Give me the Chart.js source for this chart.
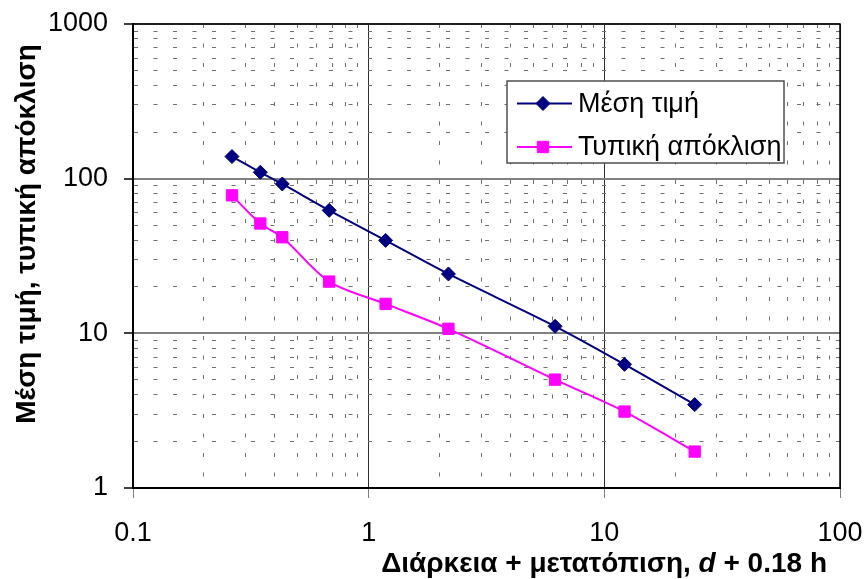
<!DOCTYPE html>
<html><head><meta charset="utf-8">
<script src="https://cdn.jsdelivr.net/npm/chart.js@4.4.1/dist/chart.umd.min.js"></script>
<style>html,body{margin:0;padding:0;background:#fff}canvas{display:block}</style>
</head><body>
<canvas id="c" width="867" height="579"></canvas>
<script>
// ---- data ----
const durations = [0.263, 0.347, 0.43, 0.68, 1.18, 2.18, 6.18, 12.18, 24.18];
const meanValues = [139, 110, 92.4, 62.4, 39.9, 24.2, 11.1, 6.3, 3.46];
const stdValues = [78, 51.3, 41.8, 21.6, 15.5, 10.7, 5.02, 3.12, 1.72];
const seriesNames = ['Μέση τιμή', 'Τυπική απόκλιση'];
const xTickLabels = [0.1, 1, 10, 100];
const yTickLabels = [1, 10, 100, 1000];
const xTitleParts = ['Διάρκεια + μετατόπιση, ', 'd', ' + 0.18 h'];
const yTitle = 'Μέση τιμή, τυπική απόκλιση';

const FONT = "'Liberation Sans', Arial, sans-serif";
Chart.defaults.font.family = FONT;

function decadeGrid(labels) {
  const out = [];
  for (let i = 0; i < labels.length - 1; i++) {
    for (let m = 1; m <= 9; m++) out.push(Number((labels[i] * m).toPrecision(6)));
  }
  out.push(labels[labels.length - 1]);
  return out;
}
function isMajor(v) {
  const l = Math.log10(v);
  return Math.abs(l - Math.round(l)) < 1e-6;
}
const xGrid = decadeGrid(xTickLabels);
const yGrid = decadeGrid(yTickLabels);

const CA = {left: 133, right: 840, top: 24, bottom: 488};

function gridDash(ctx) {
  return (ctx.tick && !isMajor(ctx.tick.value)) ? [4, 15.5] : [];
}

const framePlugin = {
  id: 'frame',
  beforeDatasetsDraw(chart) {
    const {ctx, chartArea: a} = chart;
    ctx.save();
    ctx.strokeStyle = '#000';
    ctx.lineWidth = 1.5;
    ctx.strokeRect(a.left, a.top, a.right - a.left, a.bottom - a.top);
    ctx.restore();
  }
};

function drawMarker(ctx, style, r, x, y, color) {
  ctx.save();
  ctx.fillStyle = color;
  ctx.strokeStyle = color;
  ctx.lineWidth = 1;
  ctx.beginPath();
  if (style === 'rectRot') {
    ctx.moveTo(x - r, y); ctx.lineTo(x, y - r); ctx.lineTo(x + r, y); ctx.lineTo(x, y + r);
  } else {
    const s = Math.SQRT1_2 * r;
    ctx.rect(x - s, y - s, 2 * s, 2 * s);
  }
  ctx.closePath();
  ctx.fill(); ctx.stroke();
  ctx.restore();
}

const legendPlugin = {
  id: 'boxLegend',
  afterDraw(chart) {
    const ctx = chart.ctx;
    const bx = 507, by = 81, bw = 277, bh = 82;
    ctx.save();
    ctx.fillStyle = '#fff';
    ctx.fillRect(bx, by, bw, bh);
    ctx.strokeStyle = '#505050';
    ctx.lineWidth = 1.5;
    ctx.strokeRect(bx, by, bw, bh);
    chart.data.datasets.forEach((ds, i) => {
      const y = 103.5 + i * 43.5;
      ctx.strokeStyle = ds.borderColor;
      ctx.lineWidth = 2;
      ctx.beginPath(); ctx.moveTo(517, y); ctx.lineTo(572, y); ctx.stroke();
      drawMarker(ctx, ds.pointStyle, ds.pointRadius, 543, y, ds.borderColor);
      ctx.fillStyle = '#000';
      ctx.font = '27px ' + FONT;
      ctx.textAlign = 'left';
      ctx.textBaseline = 'middle';
      ctx.fillText(ds.label, 578, y + 1);
    });
    ctx.restore();
  }
};

const titlePlugin = {
  id: 'axisTitles',
  afterDraw(chart) {
    const ctx = chart.ctx;
    ctx.save();
    ctx.fillStyle = '#000';
    ctx.textBaseline = 'alphabetic';
    const fonts = ['bold 28px ' + FONT, 'italic bold 28px ' + FONT, 'bold 28px ' + FONT];
    let total = 0;
    const widths = xTitleParts.map((t, i) => { ctx.font = fonts[i]; const w = ctx.measureText(t).width; total += w; return w; });
    let x = 827 - total;
    xTitleParts.forEach((t, i) => { ctx.font = fonts[i]; ctx.textAlign = 'left'; ctx.fillText(t, x, 572); x += widths[i]; });
    ctx.translate(35, 234);
    ctx.rotate(-Math.PI / 2);
    ctx.font = 'bold 28px ' + FONT;
    ctx.textAlign = 'center';
    ctx.fillText(yTitle, 0, 0);
    ctx.restore();
  }
};

new Chart(document.getElementById('c'), {
  type: 'line',
  data: {
    datasets: [
      {
        label: seriesNames[0],
        data: durations.map((d, i) => ({x: d, y: meanValues[i]})),
        borderColor: '#000080', backgroundColor: '#000080',
        borderWidth: 2, pointStyle: 'rectRot', pointRadius: 7, pointBorderWidth: 1,
        tension: 0.3, fill: false
      },
      {
        label: seriesNames[1],
        data: durations.map((d, i) => ({x: d, y: stdValues[i]})),
        borderColor: '#FF00FF', backgroundColor: '#FF00FF',
        borderWidth: 2, pointStyle: 'rect', pointRadius: 8, pointBorderWidth: 1,
        tension: 0.3, fill: false
      }
    ]
  },
  options: {
    responsive: false,
    animation: false,
    devicePixelRatio: 1,
    layout: {padding: {left: 0, right: 867 - CA.right, top: CA.top, bottom: 0}},
    plugins: {legend: {display: false}, tooltip: {enabled: false}},
    events: [],
    scales: {
      x: {
        type: 'logarithmic', min: xTickLabels[0], max: xTickLabels[xTickLabels.length - 1],
        afterBuildTicks: s => { s.ticks = xGrid.map(v => ({value: v, major: isMajor(v)})); },
        afterFit: s => { s.height = 579 - CA.bottom; s.paddingLeft = 0; s.paddingRight = 0; },
        ticks: {
          autoSkip: false, maxRotation: 0, minRotation: 0, color: '#000', padding: 19,
          font: {size: 27},
          callback: v => isMajor(v) ? String(v) : ''
        },
        grid: {
          color: c => (c.tick && isMajor(c.tick.value)) ? '#303030' : '#707070',
          lineWidth: 1, tickLength: 10,
          tickColor: c => (c.tick && isMajor(c.tick.value)) ? '#808080' : 'rgba(0,0,0,0)'
        },
        border: {display: true, color: '#000', width: 2, dash: gridDash}
      },
      y: {
        type: 'logarithmic', min: yTickLabels[0], max: yTickLabels[yTickLabels.length - 1],
        afterBuildTicks: s => { s.ticks = yGrid.map(v => ({value: v, major: isMajor(v)})); },
        afterFit: s => { s.width = CA.left; s.paddingTop = 0; s.paddingBottom = 0; },
        ticks: {
          autoSkip: false, color: '#000', padding: 16,
          font: {size: 27},
          callback: v => isMajor(v) ? String(v) : ''
        },
        grid: {
          color: c => (c.tick && isMajor(c.tick.value)) ? '#808080' : '#707070',
          lineWidth: c => (c.tick && isMajor(c.tick.value)) ? 2 : 1,
          tickLength: 9,
          tickColor: c => (c.tick && isMajor(c.tick.value)) ? '#404040' : 'rgba(0,0,0,0)'
        },
        border: {display: true, color: '#000', width: 2, dash: gridDash}
      }
    }
  },
  plugins: [framePlugin, legendPlugin, titlePlugin]
});
</script>
</body></html>
